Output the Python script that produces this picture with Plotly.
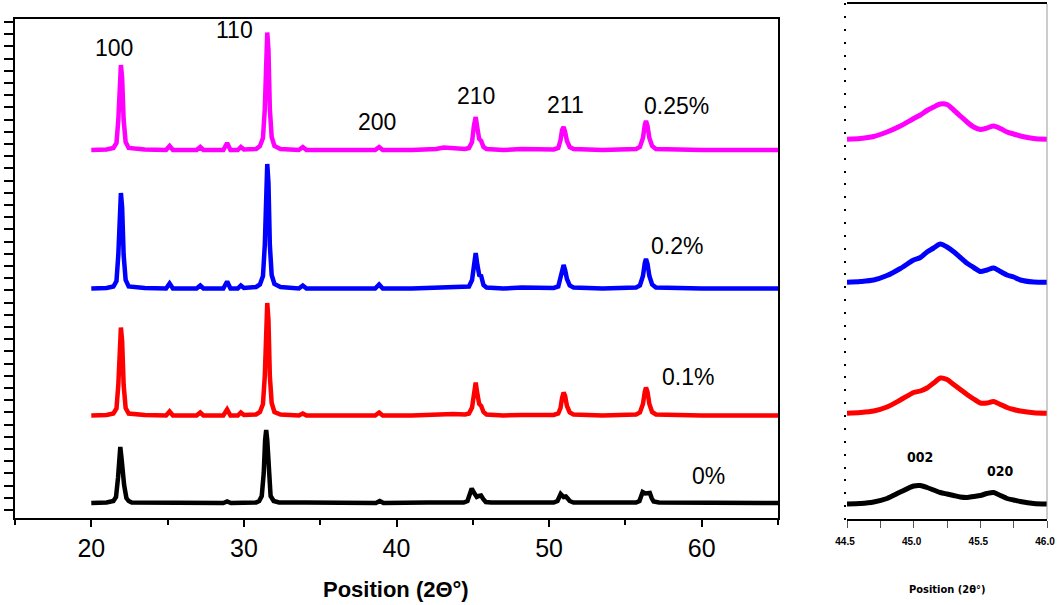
import plotly.graph_objects as go

# ---------------- main XRD patterns (stacked, arbitrary intensity units) ----------------
two_theta = [20.0, 21.0, 21.45, 21.65, 21.77, 21.86, 21.94, 22.02, 22.12, 22.25, 22.45,
             23.5, 24.9, 25.13, 25.35, 26.9, 27.14, 27.35, 28.65, 28.9, 29.12, 29.6, 29.8, 30.0,
             30.8, 31.05, 31.25, 31.37, 31.45, 31.53, 31.61, 31.7, 31.82, 32.0, 32.4,
             33.6, 33.86, 34.1, 36.0, 38.6, 38.86, 39.1, 41.0, 42.6, 43.1, 43.7,
             44.5, 44.75, 44.95, 45.07, 45.19, 45.3, 45.42, 45.55, 45.7, 45.9,
             47.0, 48.2, 50.3, 50.6, 50.75, 50.85, 50.95, 51.05, 51.17, 51.35, 51.6,
             53.5, 55.7, 55.95, 56.15, 56.27, 56.35, 56.45, 56.57, 56.75, 57.0, 60.0, 65.0]

int_025 = [368, 368.5, 370, 375, 398, 440, 453, 440, 398, 376, 370,
           368.5, 368, 372, 368, 368, 371, 368, 368, 375, 368, 368, 371, 368.5,
           369, 372, 380, 409, 468, 485.5, 468, 409, 381, 372, 369,
           368, 371, 368, 368, 368, 371, 368, 368, 369, 370.5, 370,
           369, 370, 376, 392, 401, 390, 379, 377, 371, 369,
           368, 369, 368.5, 370, 378, 388, 391, 386, 377, 371, 369,
           368, 369, 371, 380, 393, 397, 392, 380, 372, 369, 368, 368]

int_02 = [229.5, 230, 231.5, 237, 263, 310.5, 325, 310.5, 263, 238, 231.5,
          230, 229.5, 234.5, 229.5, 229.5, 232.5, 229.5, 229.5, 236.5, 229.5, 229.5, 232.5, 230,
          231, 233.5, 242, 273, 335, 354, 335, 273, 243, 234, 231,
          229.5, 232.5, 229.5, 229.5, 229.5, 233.5, 229.5, 229.5, 230, 231, 231,
          230.5, 231.5, 238, 255, 265, 253, 243, 242, 233, 230.5,
          229.5, 230.5, 230, 231.5, 240, 250, 253, 248, 239, 232.5, 230.5,
          229.5, 230.5, 232.5, 242, 255, 259, 254, 242, 233.5, 230.5, 229.5, 229.5]

int_01 = [102.5, 103, 104.5, 109.5, 133, 177, 190.5, 177, 133, 110, 104.5,
          103, 102.5, 106.5, 102.5, 102.5, 105.5, 102.5, 102.5, 108.5, 102.5, 102.5, 105.5, 103,
          103.5, 106, 114, 142, 198, 215, 198, 142, 115, 106, 103.5,
          102.5, 104.5, 102.5, 102.5, 102.5, 105.5, 102.5, 102.5, 104, 103.5, 104,
          103.5, 104.5, 110.5, 126, 135.5, 124, 114, 112, 106, 103.5,
          102.5, 103, 103, 104.5, 110, 120, 125.5, 122, 112, 105.5, 103.5,
          102.5, 103.5, 105.5, 114, 126, 130.5, 126, 114, 106, 103.5, 102.5, 102.5]

two_theta_0 = [20.0, 21.0, 21.45, 21.62, 21.75, 21.83, 21.9, 21.98, 22.05, 22.15, 22.3, 22.45, 22.65,
               24.0, 24.9, 25.13, 25.35, 27.0, 28.65, 28.9, 29.15, 30.8, 31.0, 31.17, 31.3, 31.39,
               31.46, 31.53, 31.62, 31.75, 31.95, 32.3, 34.0, 38.65, 38.9, 39.15, 42.0,
               44.4, 44.65, 44.8, 44.93, 45.05, 45.26, 45.4, 45.54, 45.68, 45.85, 46.2,
               50.3, 50.55, 50.68, 50.76, 50.95, 51.1, 51.22, 51.35, 51.6,
               55.7, 55.92, 56.05, 56.13, 56.3, 56.45, 56.6, 56.72, 56.85, 57.2, 65.0]

int_0 = [15, 15.5, 17, 21, 40, 62, 71, 60, 45, 33, 20, 17, 15.5,
         15.5, 15, 16, 15, 15.5, 15, 16.5, 15, 15.5, 17, 22, 45, 78,
         88, 78, 45, 22, 17, 15.5, 15.5, 15, 17, 15, 15.5,
         15.5, 17, 23, 29.5, 26, 21, 22, 22.5, 19, 16, 15.5,
         15.5, 17, 22, 24, 21, 21.5, 19.5, 17, 15.5,
         15.5, 17, 23, 26, 24.5, 24.5, 25, 20, 16.5, 15.5, 15]

# ---------------- zoom on the (002)/(020) region ----------------
two_theta_zoom = [44.50, 44.60, 44.70, 44.80, 44.90, 45.00, 45.05, 45.10, 45.15, 45.20, 45.25, 45.30,
                  45.35, 45.40, 45.45, 45.50, 45.55, 45.60, 45.65, 45.70, 45.75, 45.80, 45.90, 46.00]

zoom_025 = [379.7, 380.5, 382.5, 387, 393, 400.5, 404, 408.5, 412, 415, 414.5, 409,
            403, 397, 392, 389.5, 391, 393, 390.5, 387, 385, 383, 380.5, 379.7]
zoom_02 = [236.7, 237.5, 239, 243.5, 250.5, 259, 261.5, 267, 271, 275, 272, 267.3,
           261.5, 255.7, 251.5, 247.5, 249, 251, 247.5, 244, 242, 239, 237, 236.7]
zoom_01 = [105.7, 106.5, 108, 112, 119, 126.5, 128, 131, 136, 141, 139.5, 134.5,
           129.5, 124.5, 120, 116, 116, 117.5, 114.5, 111.5, 109.5, 108, 106.2, 105.7]
zoom_0 = [15, 15.5, 17, 20.5, 27, 33, 33.5, 31.5, 29, 26.5, 25, 23.5,
          22, 21.5, 22.5, 23.5, 25.5, 26.5, 23.5, 20.5, 19, 17.5, 15.5, 15]

zoom_ticks = [44.5, 45.0, 45.5, 46.0]
zoom_tick_text = ["44.5", "45.0", "45.5", "46.0"]

series = [
    ("0.25%", "#FF00FF", two_theta, int_025, zoom_025),
    ("0.2%", "#0000FF", two_theta, int_02, zoom_02),
    ("0.1%", "#FF0000", two_theta, int_01, zoom_01),
    ("0%", "#000000", two_theta_0, int_0, zoom_0),
]

peak_labels = [("100", 114, 48), ("110", 234, 30), ("200", 377, 122),
               ("210", 476, 96), ("211", 565, 105)]
sample_labels = [("0.25%", 676, 106), ("0.2%", 677, 246), ("0.1%", 688, 377), ("0%", 708, 476)]
zoom_labels = [("002", 920, 457), ("020", 1000, 471)]

W, H = 1057, 605
FONT = "Liberation Sans, Arial, sans-serif"
NARROW = "DejaVu Sans Condensed, Liberation Sans Narrow, Arial Narrow, sans-serif"

fig = go.Figure()
for name, color, xs, ys, yz in series:
    fig.add_trace(go.Scatter(x=xs, y=ys, mode="lines", name=name,
                             line=dict(color=color, width=4.5), xaxis="x", yaxis="y",
                             showlegend=False))
    fig.add_trace(go.Scatter(x=two_theta_zoom, y=yz, mode="lines", name=name,
                             line=dict(color=color, width=5, shape="spline", smoothing=0.7),
                             xaxis="x2", yaxis="y2", showlegend=False))

def px_x(p):
    return p / W

def px_y(p):
    return 1 - p / H

annotations = []
for txt, x, y in peak_labels + sample_labels:
    annotations.append(dict(text=txt, x=px_x(x), y=px_y(y), xref="paper", yref="paper",
                            showarrow=False, xanchor="center", yanchor="middle",
                            font=dict(family=FONT, size=23, color="black")))
for txt, x, y in zoom_labels:
    annotations.append(dict(text=txt, x=px_x(x), y=px_y(y), xref="paper", yref="paper",
                            showarrow=False, xanchor="center", yanchor="middle",
                            font=dict(family=NARROW, size=14, color="black", weight="bold")))
annotations.append(dict(text="Position (2Θ°)", x=px_x(396), y=px_y(589), xref="paper", yref="paper",
                        showarrow=False, xanchor="center", yanchor="middle",
                        font=dict(family=FONT, size=22, color="black", weight="bold")))
annotations.append(dict(text="Position (2θ°)", x=px_x(947), y=px_y(589), xref="paper", yref="paper",
                        showarrow=False, xanchor="center", yanchor="middle",
                        font=dict(family=NARROW, size=11, color="black", weight="bold")))

fig.update_layout(
    width=W, height=H,
    margin=dict(l=0, r=0, t=0, b=0),
    paper_bgcolor="white", plot_bgcolor="white",
    annotations=annotations,
    xaxis=dict(domain=[15 / W, 778 / W], range=[15, 65], tickvals=[20, 30, 40, 50, 60],
               showline=True, linecolor="black", linewidth=1.8, mirror=True,
               ticks="outside", ticklen=7, tickwidth=1.5, tickcolor="black",
               minor=dict(dtick=5, tick0=15, ticks="outside", ticklen=5, tickwidth=1.5, tickcolor="black"),
               showgrid=False, zeroline=False,
               tickfont=dict(family=FONT, size=25, color="black"), automargin=False),
    yaxis=dict(domain=[(H - 518) / H, (H - 19) / H], range=[0, 499],
               tick0=8, dtick=12.2, showticklabels=False,
               showline=True, linecolor="black", linewidth=1.8, mirror=True,
               ticks="outside", ticklen=9, tickwidth=1.5, tickcolor="black",
               showgrid=False, zeroline=False, automargin=False),
    xaxis2=dict(domain=[847 / W, 1047 / W], range=[44.5, 46.0], tickvals=zoom_ticks,
                ticktext=zoom_tick_text,
                showline=True, linecolor="black", linewidth=1.5, mirror=True,
                ticks="outside", ticklen=7, tickwidth=1, tickcolor="#555555",
                minor=dict(dtick=0.25, tick0=44.5, ticks="outside", ticklen=7, tickwidth=1, tickcolor="#555555"),
                showgrid=False, zeroline=False, ticklabeloverflow="allow",
                ticklabelstandoff=5, ticklabelshift=-2,
                tickfont=dict(family=FONT, size=10, color="black", weight="bold"), automargin=False,
                anchor="y2"),
    yaxis2=dict(domain=[(H - 519) / H, (H - 4) / H], range=[0, 515],
                tick0=0, dtick=12.87, showticklabels=False,
                showline=False, ticks="outside", ticklen=2, tickwidth=1.5, tickcolor="black",
                showgrid=False, zeroline=False, automargin=False, anchor="x2"),
    shapes=[dict(type="line", xref="paper", yref="paper", x0=1047 / W, x1=1047 / W,
                 y0=(H - 519) / H, y1=(H - 4) / H, line=dict(color="#999999", width=1))],
)

fig.write_html("out.html")
